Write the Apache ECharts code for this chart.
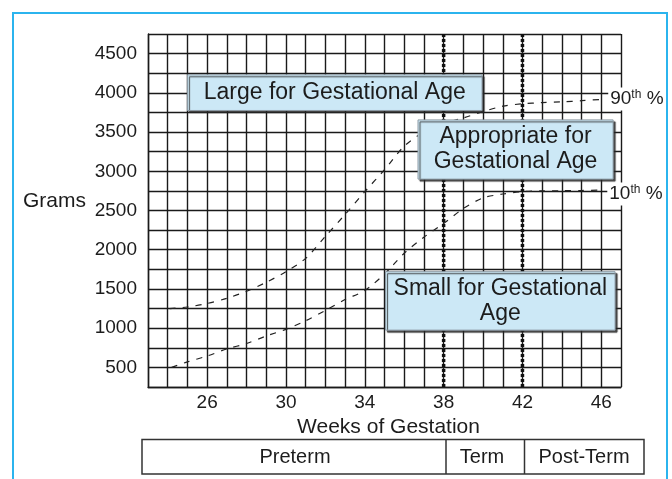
<!DOCTYPE html>
<html><head><meta charset="utf-8">
<script src="https://cdn.jsdelivr.net/npm/echarts@6/dist/echarts.min.js"></script>
<style>html,body{margin:0;padding:0;background:#fff}#c{width:672px;height:479px}</style>
</head><body><div id="c"></div>
<script>
// ---- data ----
const weeks90 = [24.1, 25, 26, 27, 28, 29, 30, 31, 32, 33, 34, 35, 36, 37, 38, 39, 40, 41, 42, 43, 44, 45, 46.2];
const grams90 = [1250, 1270, 1315, 1380, 1470, 1585, 1720, 1890, 2170, 2450, 2740, 3020, 3320, 3500, 3610, 3680, 3760, 3830, 3860, 3875, 3885, 3900, 3920];
const weeks10 = [24.2, 25, 26, 27, 28, 29, 30, 31, 32, 33, 34, 35, 36, 37, 38, 39, 40, 41, 42, 43, 44, 45, 46];
const grams10 = [500, 570, 645, 735, 805, 900, 985, 1095, 1225, 1365, 1480, 1690, 1955, 2160, 2335, 2525, 2660, 2710, 2740, 2750, 2752, 2755, 2760];
const termWeeks = [38, 42];
const yTickLabels = [500, 1000, 1500, 2000, 2500, 3000, 3500, 4000, 4500];
const xTickLabels = [26, 30, 34, 38, 42, 46];
const zoneNames = ['Large for Gestational Age', 'Appropriate for\nGestational Age', 'Small for Gestational\nAge'];
const zoneWeekFrom = [25, 36.7, 35.05];
const zoneWeekTo = [39.95, 46.6, 46.7];
const zoneGramsTop = [4230, 3655, 1720];
const zoneGramsBottom = [3775, 2900, 975];
const periodNames = ['Preterm', 'Term', 'Post-Term'];

// ---- chart ----
const FONT = '"Liberation Sans", Arial, sans-serif';
const TXT = '#1c1c1c';
const chart = echarts.init(document.getElementById('c'), null, {renderer: 'canvas'});
const gridLine = {color: '#1a1a1a', width: 1.4};

const zoneData = zoneNames.map((n, i) => [zoneWeekFrom[i], zoneGramsBottom[i], zoneWeekTo[i], zoneGramsTop[i]]);

const termSeries = termWeeks.map(w => ({
  type: 'line', data: [[w, 250], [w, 4750]], symbol: 'none', silent: true, z: 3,
  lineStyle: {color: '#111', width: 3.5, type: [3, 2]}
}));

const pctLabel = (txt) => ({
  show: true, distance: 3,
  formatter: '{n|' + txt + '}{s|th}{n| %}',
  backgroundColor: '#fff', padding: [1, 2, 1, 2],
  rich: {
    n: {fontSize: 19, fontFamily: FONT, color: TXT, lineHeight: 21},
    s: {fontSize: 12, fontFamily: FONT, color: TXT, verticalAlign: 'top', lineHeight: 12}
  }
});

chart.setOption({
  animation: false,
  backgroundColor: '#fff',
  grid: {left: 148, right: 51, top: 34, bottom: 92, containLabel: false},
  xAxis: {
    type: 'value', min: 23, max: 47, interval: 1,
    name: 'Weeks of Gestation', nameLocation: 'middle', nameGap: 27,
    nameTextStyle: {fontSize: 21, fontFamily: FONT, color: TXT, padding: [0, 0, 0, 8]},
    axisLine: {show: true, lineStyle: gridLine},
    axisTick: {show: false},
    axisLabel: {margin: 6, fontSize: 19, fontFamily: FONT, color: TXT,
      formatter: v => xTickLabels.includes(v) ? String(v) : ''},
    splitLine: {show: true, lineStyle: gridLine}
  },
  yAxis: {
    type: 'value', min: 250, max: 4750, interval: 250,
    name: 'Grams', nameLocation: 'middle', nameRotate: 0, nameGap: 62,
    nameTextStyle: {fontSize: 21, fontFamily: FONT, color: TXT, verticalAlign: 'bottom', lineHeight: 18},
    axisLine: {show: true, lineStyle: gridLine},
    axisTick: {show: false},
    axisLabel: {margin: 11, fontSize: 19, fontFamily: FONT, color: TXT,
      formatter: v => yTickLabels.includes(v) ? String(v) : ''},
    splitLine: {show: true, lineStyle: gridLine}
  },
  series: [
    ...termSeries,
    {
      type: 'line', name: '90th', data: weeks90.map((w, i) => [w, grams90[i]]),
      symbol: 'none', smooth: 0.3, z: 4,
      lineStyle: {color: '#222', width: 1.2, type: [6, 7]},
      endLabel: pctLabel('90')
    },
    {
      type: 'line', name: '10th', data: weeks10.map((w, i) => [w, grams10[i]]),
      symbol: 'none', smooth: 0.3, z: 4,
      lineStyle: {color: '#222', width: 1.2, type: [6, 7]},
      endLabel: Object.assign(pctLabel('10'), {offset: [3, 4]})
    },
    {
      type: 'custom', z: 10, silent: true,
      data: zoneData,
      encode: {x: [0, 2], y: [1, 3]},
      renderItem: (params, api) => {
        const tl = api.coord([api.value(0), api.value(3)]);
        const br = api.coord([api.value(2), api.value(1)]);
        const cx = (tl[0] + br[0]) / 2, cy = (tl[1] + br[1]) / 2;
        return {
          type: 'group', children: [
            {type: 'rect', shape: {x: tl[0], y: tl[1], width: br[0] - tl[0], height: br[1] - tl[1]},
             style: {fill: '#cce8f6', stroke: '#8c9aa4', lineWidth: 1,
                     shadowColor: 'rgba(40,40,40,0.85)', shadowOffsetX: 2, shadowOffsetY: 2, shadowBlur: 1}},
            {type: 'text', style: {text: zoneNames[params.dataIndex], x: cx, y: cy,
              align: 'center', verticalAlign: 'middle', fontSize: 23, fontFamily: FONT,
              fill: TXT, lineHeight: 25}}
          ]
        };
      }
    }
  ],
  graphic: [
    {type: 'rect', z: -10, silent: true, shape: {x: 13, y: 13, width: 654, height: 490},
     style: {fill: 'none', stroke: '#2bb4ee', lineWidth: 2}},
    {type: 'rect', silent: true, shape: {x: 142, y: 439.5, width: 502, height: 34.5},
     style: {fill: '#fff', stroke: '#333', lineWidth: 1.5}},
    {type: 'line', silent: true, shape: {x1: 446, y1: 439.5, x2: 446, y2: 474}, style: {stroke: '#333', lineWidth: 1.5}},
    {type: 'line', silent: true, shape: {x1: 524.5, y1: 439.5, x2: 524.5, y2: 474}, style: {stroke: '#333', lineWidth: 1.5}},
    {type: 'text', silent: true, style: {text: periodNames[0], x: 295, y: 457, align: 'center', verticalAlign: 'middle', fontSize: 20, fontFamily: FONT, fill: TXT}},
    {type: 'text', silent: true, style: {text: periodNames[1], x: 482, y: 457, align: 'center', verticalAlign: 'middle', fontSize: 20, fontFamily: FONT, fill: TXT}},
    {type: 'text', silent: true, style: {text: periodNames[2], x: 584, y: 457, align: 'center', verticalAlign: 'middle', fontSize: 20, fontFamily: FONT, fill: TXT}}
  ]
});
</script>
</body></html>
